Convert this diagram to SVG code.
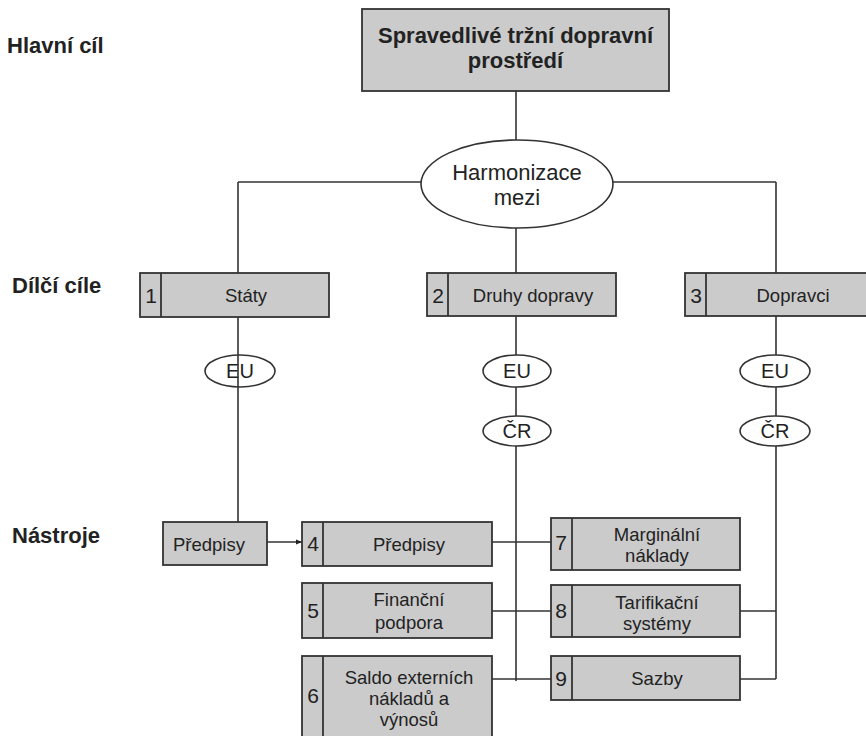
<svg xmlns="http://www.w3.org/2000/svg" width="866" height="736" viewBox="0 0 866 736">
<defs>
<style>
.bx{fill:#cbcbcb;stroke:#333;stroke-width:1.8}
.el{fill:#fff;stroke:#333;stroke-width:1.6}
.dv{stroke:#333;stroke-width:1.8}
.ln{stroke:#333;stroke-width:1.6;fill:none}
text{font-family:"Liberation Sans",Arial,sans-serif;fill:#222}
.t{font-size:18.5px;text-anchor:middle}
.n{font-size:21px;text-anchor:middle}
.lab{font-size:22px;font-weight:bold}
.top{font-size:22px;font-weight:bold;text-anchor:middle}
.e{font-size:20px;text-anchor:middle}
</style>
<marker id="arr" viewBox="0 0 10 10" refX="10" refY="5" markerWidth="6" markerHeight="6" orient="auto" markerUnits="userSpaceOnUse">
<path d="M0,1 L10,5 L0,9 z" fill="#222"/>
</marker>
</defs>
<rect width="866" height="736" fill="#fff"/>

<g id="labels">
<text class="lab" x="7" y="53">Hlavní cíl</text>
<text class="lab" x="12" y="293">Dílčí cíle</text>
<text class="lab" x="12" y="543">Nástroje</text>
</g>

<g id="main">
<rect class="bx" x="362" y="9" width="307" height="82"/>
<text class="top" x="515.5" y="43">Spravedlivé tržní dopravní</text>
<text class="top" x="515.5" y="68">prostředí</text>
</g>

<g id="harmonizace">
<ellipse class="el" cx="517" cy="184" rx="96" ry="44"/>
<text x="517" y="180" style="font-size:22px;text-anchor:middle">Harmonizace</text>
<text x="517" y="205" style="font-size:22px;text-anchor:middle">mezi</text>
</g>

<g id="n1">
<rect class="bx" x="140" y="273" width="189" height="44"/>
<line class="dv" x1="161" y1="273" x2="161" y2="317"/>
<text class="n" x="151" y="303">1</text>
<text class="t" x="246" y="302">Státy</text>
</g>
<g id="n2">
<rect class="bx" x="427" y="273" width="189" height="43"/>
<line class="dv" x1="448" y1="273" x2="448" y2="316"/>
<text class="n" x="438" y="303">2</text>
<text class="t" x="533" y="302">Druhy dopravy</text>
</g>
<g id="n3">
<rect class="bx" x="685" y="273" width="200" height="43"/>
<line class="dv" x1="706" y1="273" x2="706" y2="316"/>
<text class="n" x="696" y="303">3</text>
<text class="t" x="793" y="302">Dopravci</text>
</g>

<g id="eu1">
<ellipse class="el" cx="240" cy="371" rx="35" ry="16"/>
<text class="e" x="240" y="378">EU</text>
</g>
<g id="eu2">
<ellipse class="el" cx="517" cy="371" rx="34" ry="16"/>
<text class="e" x="517" y="378">EU</text>
</g>
<g id="cr2">
<ellipse class="el" cx="517" cy="431" rx="34" ry="15"/>
<text class="e" x="517" y="438">ČR</text>
</g>
<g id="eu3">
<ellipse class="el" cx="775" cy="371" rx="35" ry="16"/>
<text class="e" x="775" y="378">EU</text>
</g>
<g id="cr3">
<ellipse class="el" cx="775" cy="431" rx="35" ry="15"/>
<text class="e" x="775" y="438">ČR</text>
</g>

<g id="predpisy">
<rect class="bx" x="163" y="522" width="104" height="43"/>
<text class="t" x="209" y="551">Předpisy</text>
</g>
<g id="n4">
<rect class="bx" x="302" y="522" width="190" height="44"/>
<line class="dv" x1="323" y1="522" x2="323" y2="566"/>
<text class="n" x="313" y="551">4</text>
<text class="t" x="409" y="551">Předpisy</text>
</g>
<g id="n5">
<rect class="bx" x="302" y="583" width="190" height="55"/>
<line class="dv" x1="323" y1="583" x2="323" y2="638"/>
<text class="n" x="313" y="618">5</text>
<text class="t" x="409" y="606">Finanční</text>
<text class="t" x="409" y="629">podpora</text>
</g>
<g id="n6">
<rect class="bx" x="302" y="656" width="190" height="90"/>
<line class="dv" x1="323" y1="656" x2="323" y2="746"/>
<text class="n" x="313" y="703">6</text>
<text class="t" x="409" y="684">Saldo externích</text>
<text class="t" x="409" y="705">nákladů a</text>
<text class="t" x="409" y="726">výnosů</text>
</g>
<g id="n7">
<rect class="bx" x="551" y="518" width="189" height="52"/>
<line class="dv" x1="572" y1="518" x2="572" y2="570"/>
<text class="n" x="561" y="550">7</text>
<text class="t" x="657" y="541">Marginální</text>
<text class="t" x="657" y="562">náklady</text>
</g>
<g id="n8">
<rect class="bx" x="551" y="585" width="189" height="52"/>
<line class="dv" x1="572" y1="585" x2="572" y2="637"/>
<text class="n" x="561" y="618">8</text>
<text class="t" x="657" y="609">Tarifikační</text>
<text class="t" x="657" y="630">systémy</text>
</g>
<g id="n9">
<rect class="bx" x="551" y="656" width="189" height="44"/>
<line class="dv" x1="572" y1="656" x2="572" y2="700"/>
<text class="n" x="561" y="686">9</text>
<text class="t" x="657" y="685">Sazby</text>
</g>

<g id="connectors">
<line class="ln" x1="516" y1="91" x2="516" y2="140"/>
<line class="ln" x1="238" y1="182" x2="421" y2="182"/>
<line class="ln" x1="613" y1="182" x2="776" y2="182"/>
<line class="ln" x1="238" y1="182" x2="238" y2="273"/>
<line class="ln" x1="516" y1="228" x2="516" y2="273"/>
<line class="ln" x1="776" y1="182" x2="776" y2="273"/>
<line class="ln" x1="238" y1="317" x2="238" y2="522"/>
<line class="ln" x1="516" y1="316" x2="516" y2="355"/>
<line class="ln" x1="516" y1="387" x2="516" y2="416"/>
<line class="ln" x1="516" y1="446" x2="516" y2="681"/>
<line class="ln" x1="776" y1="316" x2="776" y2="355"/>
<line class="ln" x1="776" y1="387" x2="776" y2="416"/>
<line class="ln" x1="776" y1="446" x2="776" y2="679"/>
<line class="ln" x1="267" y1="542" x2="302" y2="542" marker-end="url(#arr)"/>
<line class="ln" x1="492" y1="542" x2="551" y2="542"/>
<line class="ln" x1="492" y1="611" x2="551" y2="611"/>
<line class="ln" x1="492" y1="679" x2="551" y2="679"/>
<line class="ln" x1="740" y1="611" x2="776" y2="611"/>
<line class="ln" x1="740" y1="679" x2="776" y2="679"/>
</g>
</svg>
